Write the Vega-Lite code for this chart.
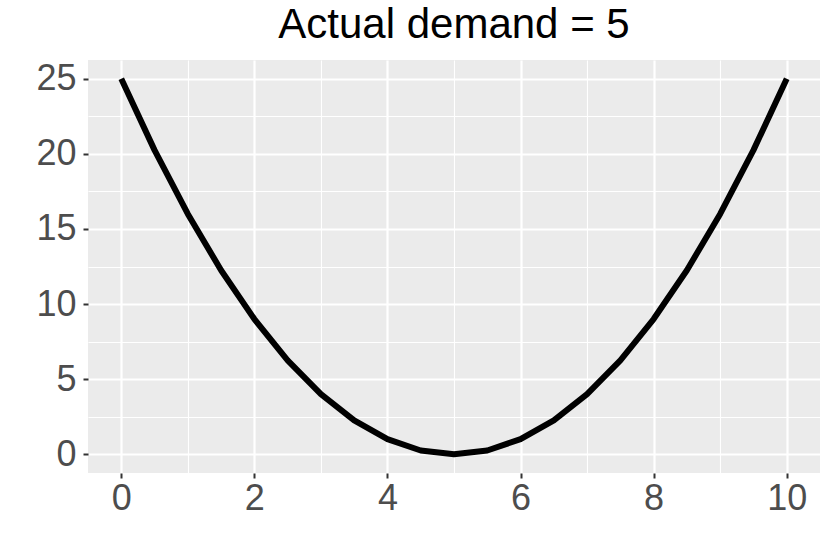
{
  "$schema": "https://vega.github.io/schema/vega-lite/v6.json",
  "width": 732,
  "height": 413,
  "autosize": {"type": "none"},
  "padding": {"left": 88, "top": 60, "right": 10, "bottom": 81},
  "background": "white",
  "config": {
    "view": {"fill": "#EBEBEB", "stroke": null},
    "font": "Liberation Sans"
  },
  "title": {
    "text": "Actual demand = 5",
    "fontSize": 42,
    "fontWeight": "normal",
    "color": "black",
    "anchor": "middle",
    "offset": 13
  },
  "data": {
    "values": [
      {"x": 0, "y": 25}, {"x": 0.5, "y": 20.25}, {"x": 1, "y": 16}, {"x": 1.5, "y": 12.25},
      {"x": 2, "y": 9}, {"x": 2.5, "y": 6.25}, {"x": 3, "y": 4}, {"x": 3.5, "y": 2.25},
      {"x": 4, "y": 1}, {"x": 4.5, "y": 0.25}, {"x": 5, "y": 0}, {"x": 5.5, "y": 0.25},
      {"x": 6, "y": 1}, {"x": 6.5, "y": 2.25}, {"x": 7, "y": 4}, {"x": 7.5, "y": 6.25},
      {"x": 8, "y": 9}, {"x": 8.5, "y": 12.25}, {"x": 9, "y": 16}, {"x": 9.5, "y": 20.25},
      {"x": 10, "y": 25}
    ]
  },
  "mark": {"type": "line", "color": "black", "strokeWidth": 6, "strokeJoin": "round"},
  "encoding": {
    "x": {
      "field": "x", "type": "quantitative",
      "scale": {"domain": [-0.5, 10.5], "nice": false, "zero": false},
      "axis": {
        "title": null,
        "values": [0, 1, 2, 3, 4, 5, 6, 7, 8, 9, 10],
        "labelExpr": "datum.value % 2 === 0 ? datum.label : ''",
        "labelFontSize": 36,
        "labelColor": "#4D4D4D",
        "labelPadding": 3,
        "domain": false,
        "grid": true,
        "gridColor": "white",
        "gridWidth": {"condition": {"test": "datum.value % 2 !== 0", "value": 1.1}, "value": 2.2},
        "tickColor": "#333333",
        "tickWidth": 2,
        "tickSize": 5,
        "tickOpacity": {"condition": {"test": "datum.value % 2 !== 0", "value": 0}, "value": 1}
      }
    },
    "y": {
      "field": "y", "type": "quantitative",
      "scale": {"domain": [-1.25, 26.25], "nice": false, "zero": false},
      "axis": {
        "title": null,
        "values": [0, 2.5, 5, 7.5, 10, 12.5, 15, 17.5, 20, 22.5, 25],
        "labelExpr": "datum.value % 5 === 0 ? datum.label : ''",
        "labelFontSize": 36,
        "labelColor": "#4D4D4D",
        "labelPadding": 7,
        "domain": false,
        "grid": true,
        "gridColor": "white",
        "gridWidth": {"condition": {"test": "datum.value % 5 !== 0", "value": 1.1}, "value": 2.2},
        "tickColor": "#333333",
        "tickWidth": 2,
        "tickSize": 5,
        "tickOpacity": {"condition": {"test": "datum.value % 5 !== 0", "value": 0}, "value": 1}
      }
    }
  }
}
